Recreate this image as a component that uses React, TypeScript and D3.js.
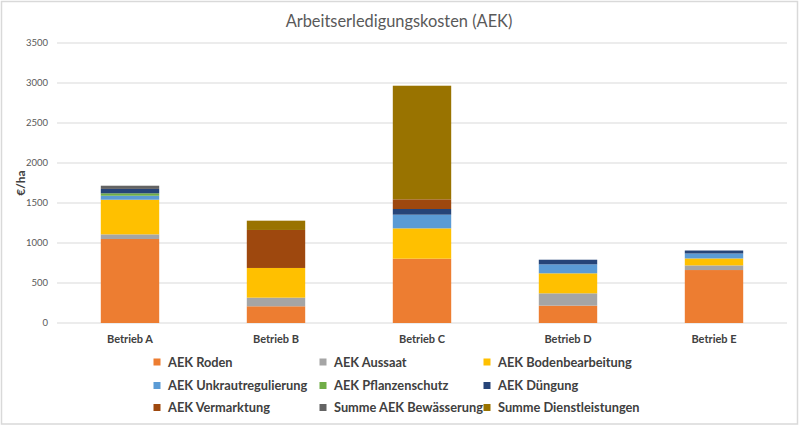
import React from "react";
import * as d3 from "d3";

const categories = ["Betrieb A", "Betrieb B", "Betrieb C", "Betrieb D", "Betrieb E"];
const seriesNames = [
  "AEK Roden",
  "AEK Aussaat",
  "AEK Bodenbearbeitung",
  "AEK Unkrautregulierung",
  "AEK Pflanzenschutz",
  "AEK Düngung",
  "AEK Vermarktung",
  "Summe AEK Bewässerung",
  "Summe Dienstleistungen",
];
const seriesColors = ["#ED7D31", "#A5A5A5", "#FFC000", "#5B9BD5", "#70AD47", "#264478", "#9E480E", "#636363", "#997300"];

const roden = [1050, 209, 804, 217, 662];
const aussaat = [58, 108, 0, 154, 58];
const bodenbearbeitung = [433, 371, 379, 250, 87];
const unkrautregulierung = [50, 0, 171, 112, 62];
const pflanzenschutz = [30, 0, 0, 0, 0];
const duengung = [55, 0, 71, 58, 37];
const vermarktung = [0, 475, 121, 0, 0];
const bewaesserung = [40, 0, 0, 0, 0];
const dienstleistungen = [0, 116, 1420, 0, 0];
const yTicks = [0, 500, 1000, 1500, 2000, 2500, 3000, 3500];

const seriesValues = [roden, aussaat, bodenbearbeitung, unkrautregulierung, pflanzenschutz, duengung, vermarktung, bewaesserung, dienstleistungen];

const W = 800;
const H = 426;
const FONT = "Lato, 'Open Sans', sans-serif";

export default function App() {
  const rows = categories.map((c, i) => {
    const r: any = { cat: c };
    seriesNames.forEach((s, j) => (r[s] = seriesValues[j][i]));
    return r;
  });
  const stack = d3.stack<any>().keys(seriesNames)(rows);
  const x = d3.scaleBand().domain(categories).range([57, 787]).paddingInner(0.6).paddingOuter(0.3);
  const y = d3.scaleLinear().domain([0, 3500]).range([323, 43]);

  const legendCols = [157, 323, 487];
  const legendRows = [362, 385.5, 407.5];

  return (
    <div style={{ position: "fixed", left: 0, top: 0, width: W, height: H }}>
      <svg width={W} height={H} style={{ display: "block", fontFamily: FONT }}>
        <rect x={0} y={0} width={W} height={H} fill="#fff" />
        <rect x={1.5} y={1.5} width={W - 4} height={H - 3.5} fill="none" stroke="#d9d9d9" strokeWidth={1.5} />
        <text x={399} y={21} dy="0.35em" textAnchor="middle" fontSize={16.4} fill="#595959" fontFamily={FONT}>
          Arbeitserledigungskosten (AEK)
        </text>
        {yTicks.map((t) => (
          <g key={t}>
            <line x1={57} x2={787} y1={y(t)} y2={y(t)} stroke="#d9d9d9" strokeWidth={1} />
            <text x={48} y={y(t)} dy="0.35em" textAnchor="end" fontSize={9.5} fill="#595959">
              {t}
            </text>
          </g>
        ))}
        <text
          transform={`translate(21,183) rotate(-90)`}
          textAnchor="middle"
          dy="0.35em"
          fontSize={12}
          fontWeight="bold"
          fill="#404040"
        >
          €/ha
        </text>
        {stack.map((layer, j) => (
          <g key={layer.key} fill={seriesColors[j]}>
            {layer.map((d, i) =>
              d[1] - d[0] > 0 ? (
                <rect
                  key={i}
                  x={x(categories[i])!}
                  width={x.bandwidth()}
                  y={y(d[1])}
                  height={y(d[0]) - y(d[1])}
                />
              ) : null
            )}
          </g>
        ))}
        {categories.map((c) => (
          <text
            key={c}
            x={x(c)! + x.bandwidth() / 2}
            y={339}
            dy="0.35em"
            textAnchor="middle"
            fontSize={11}
            fontWeight="bold"
            fill="#404040"
          >
            {c}
          </text>
        ))}
        {seriesNames.map((s, j) => {
          const col = j % 3;
          const row = Math.floor(j / 3);
          const lx = legendCols[col];
          const ly = legendRows[row];
          return (
            <g key={s}>
              <rect x={lx - 3.5} y={ly - 3.5} width={7} height={7} fill={seriesColors[j]} />
              <text x={lx + 11} y={ly} dy="0.36em" fontSize={12.8} fontWeight="bold" fill="#404040">
                {s}
              </text>
            </g>
          );
        })}
      </svg>
    </div>
  );
}
